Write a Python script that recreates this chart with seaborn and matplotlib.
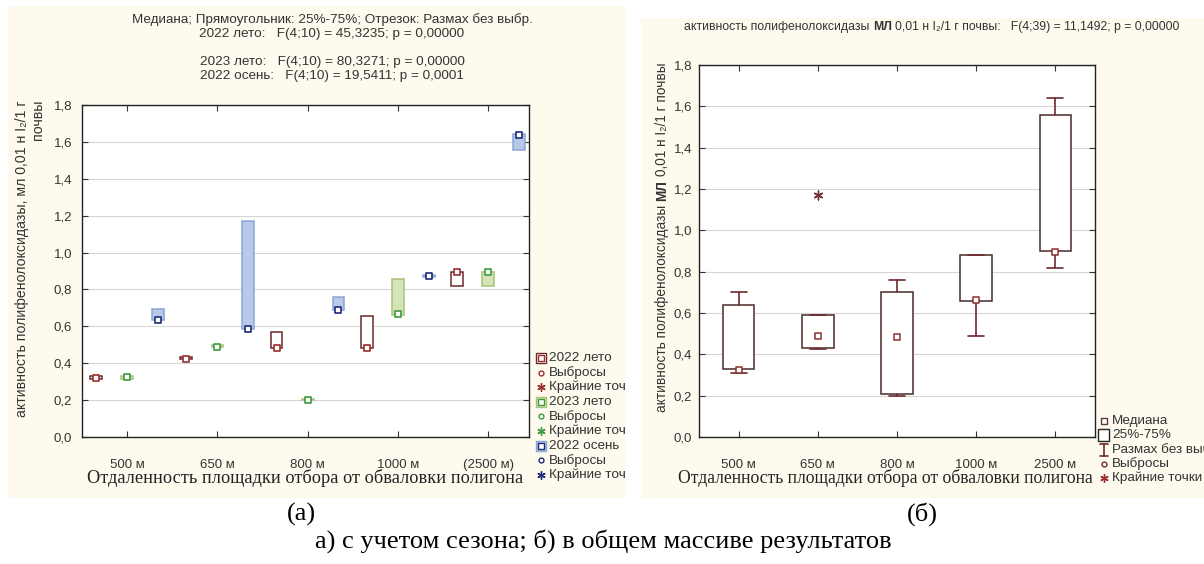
import matplotlib
matplotlib.use("Agg")
import matplotlib.pyplot as plt
from matplotlib import font_manager
from matplotlib.patches import Rectangle
from matplotlib.transforms import Bbox
import numpy as np
import pandas as pd
import seaborn as sns

# ---- data ----
distances = ["500 м", "650 м", "800 м", "1000 м", "(2500 м)"]
distances_all = ["500 м", "650 м", "800 м", "1000 м", "2500 м"]

summer22_q1 = [0.313, 0.425, 0.485, 0.485, 0.817]
summer22_q3 = [0.330, 0.435, 0.567, 0.656, 0.897]
summer22_med = [0.320, 0.425, 0.485, 0.485, 0.897]

summer23_q1 = [0.315, 0.487, 0.200, 0.663, 0.817]
summer23_q3 = [0.330, 0.500, 0.206, 0.857, 0.897]
summer23_med = [0.325, 0.489, 0.200, 0.665, 0.897]

autumn22_q1 = [0.635, 0.585, 0.690, 0.870, 1.555]
autumn22_q3 = [0.695, 1.169, 0.757, 0.876, 1.642]
autumn22_med = [0.635, 0.585, 0.690, 0.873, 1.640]

all_q1 = [0.33, 0.43, 0.21, 0.66, 0.90]
all_q3 = [0.64, 0.59, 0.70, 0.88, 1.56]
all_med = [0.325, 0.49, 0.485, 0.665, 0.895]
all_low = [0.31, 0.425, 0.20, 0.49, 0.82]
all_high = [0.70, 0.59, 0.76, 0.88, 1.64]
extreme_dist = ["650 м"]
extreme_val = [1.17]

yticks = [0.0, 0.2, 0.4, 0.6, 0.8, 1.0, 1.2, 1.4, 1.6, 1.8]


def pick_font(names, default):
    for n in names:
        try:
            font_manager.findfont(font_manager.FontProperties(family=n), fallback_to_default=False)
            return n
        except ValueError:
            pass
    return default


SANS = pick_font(["Liberation Sans Narrow", "Liberation Sans"], "DejaVu Sans")
SERIF = pick_font(["Liberation Serif"], "DejaVu Serif")

sns.set_style("ticks")
plt.rcParams["font.family"] = [SANS, "DejaVu Sans"]

CREAM = "#FEFAEE"
TXT = "#333333"
season_names = ["2022 лето", "2023 лето", "2022 осень"]
season_face = ["white", "#D5E3B8", "#B7C9E6"]
season_edge = ["#6E2B2B", "#A8C27A", "#8AA6D6"]
season_medc = ["#9B2D2D", "#3C9B3C", "#1F2A7A"]
season_q1 = [summer22_q1, summer23_q1, autumn22_q1]
season_q3 = [summer22_q3, summer23_q3, autumn22_q3]
season_med = [summer22_med, summer23_med, autumn22_med]
offsets = [-0.345, 0.0, 0.34]
MAROON = "#6E2A2E"

fig = plt.figure(figsize=(12.04, 5.64), dpi=100)
fig.patch.set_facecolor("white")

# pixel-coordinate overlay for panels, texts and hand-made legends
bg = fig.add_axes([0, 0, 1, 1], zorder=0)
bg.set_xlim(0, 1204)
bg.set_ylim(564, 0)
bg.axis("off")
bg.add_patch(Rectangle((8, 6), 618, 492, color=CREAM, lw=0))
bg.add_patch(Rectangle((641, 18), 563, 480, color=CREAM, lw=0))


def pix_axes(x0, x1, ytop, ybot):
    return fig.add_axes([x0 / 1204, 1 - ybot / 564, (x1 - x0) / 1204, (ybot - ytop) / 564], zorder=2)


def style_axes(ax, labels, xmax, pad_y):
    ax.set_facecolor("white")
    ax.set_ylim(0, 1.8)
    ax.set_yticks(yticks)
    ax.set_yticklabels([f"{v:.1f}".replace(".", ",") for v in yticks])
    ax.set_xticks(range(len(labels)))
    ax.set_xticklabels(labels)
    ax.set_xlim(-0.5, xmax)
    ax.yaxis.grid(True, color="#D6D6D6", lw=0.8)
    ax.set_axisbelow(True)
    ax.tick_params(direction="in", top=True, right=True, length=4, width=0.8,
                   color="#333333", labelcolor=TXT, labelsize=9.5)
    ax.tick_params(axis="x", pad=16)
    ax.tick_params(axis="y", pad=pad_y)
    for s in ax.spines.values():
        s.set_color("#222222")
        s.set_linewidth(1.0)
    ax.set_xlabel("")
    ax.set_ylabel("")


# ---------------- left panel: by season ----------------
axL = pix_axes(82, 529, 105, 437)
x = np.arange(len(distances))
for i in range(3):
    stats = [dict(med=m, q1=a, q3=b, whislo=a, whishi=b, fliers=[])
             for a, b, m in zip(season_q1[i], season_q3[i], season_med[i])]
    axL.bxp(stats, positions=x + offsets[i], widths=0.13, patch_artist=True,
            showcaps=False, showfliers=False, manage_ticks=False,
            boxprops=dict(facecolor=season_face[i], edgecolor=season_edge[i], lw=1.1),
            whiskerprops=dict(lw=0), medianprops=dict(lw=0))
    df = pd.DataFrame({"pos": x + offsets[i], "med": season_med[i]})
    sns.scatterplot(data=df, x="pos", y="med", marker="s", s=24, facecolor="white",
                    edgecolor=season_medc[i], linewidth=1.2, ax=axL, zorder=5)
style_axes(axL, distances, 4.45, 7)

# ---------------- right panel: all results ----------------
axR = pix_axes(699, 1095, 65, 437)
stats_all = [dict(med=m, q1=a, q3=b, whislo=lo, whishi=hi, fliers=[])
             for a, b, m, lo, hi in zip(all_q1, all_q3, all_med, all_low, all_high)]
axR.bxp(stats_all, positions=np.arange(len(distances_all)), widths=0.4, capwidths=0.2,
        patch_artist=True, showfliers=False, manage_ticks=False,
        boxprops=dict(facecolor="white", edgecolor="#4A2A2A", lw=1.1),
        whiskerprops=dict(color=MAROON, lw=1.2), capprops=dict(color=MAROON, lw=1.2),
        medianprops=dict(lw=0))
dfm = pd.DataFrame({"dist": distances_all, "med": all_med})
sns.scatterplot(data=dfm, x="dist", y="med", marker="s", s=18, facecolor="white",
                edgecolor="#8B2E2E", linewidth=1.1, ax=axR, zorder=5)
dfe = pd.DataFrame({"dist": extreme_dist, "val": extreme_val})
sns.scatterplot(data=dfe, x="dist", y="val", marker=(6, 2, 0), s=40, color=MAROON,
                edgecolor=MAROON, linewidth=1.0, ax=axR, zorder=5)
style_axes(axR, distances_all, 4.5, 5)

# ---------------- texts ----------------
rend = fig.canvas.get_renderer()


def gap_width(size, weight):
    a = bg.text(0, 0, "x x", fontsize=size, fontweight=weight)
    b = bg.text(0, 0, "xx", fontsize=size, fontweight=weight)
    g = a.get_window_extent(rend).width - b.get_window_extent(rend).width
    a.remove()
    b.remove()
    return g


def chain_text(x0, y0, parts, size, rotation=0):
    # parts: list of (text, weight, space_after)
    x_, y_ = x0, y0
    for s, w, sp in parts:
        t = bg.text(x_, y_, s, fontsize=size, fontweight=w, rotation=rotation,
                    rotation_mode="anchor", ha="left", va="baseline", color=TXT)
        bb = t.get_window_extent(rend)
        adv = (bb.width if rotation == 0 else bb.height) + sp * gap_width(size, "normal")
        if rotation == 0:
            x_ += adv
        else:
            y_ -= adv


title_left = ["Медиана; Прямоугольник: 25%-75%; Отрезок: Размах без выбр.",
              "2022 лето:   F(4;10) = 45,3235; p = 0,00000",
              "",
              "2023 лето:   F(4;10) = 80,3271; p = 0,00000",
              "2022 осень:   F(4;10) = 19,5411; p = 0,0001"]
for k, line in enumerate(title_left):
    bg.text(332, 20 + 14 * k, line, ha="center", va="center", fontsize=9.7, color=TXT)

chain_text(684, 30, [("активность полифенолоксидазы", "normal", 1), ("МЛ", "bold", 1),
                     ("0,01 н I₂/1 г почвы:   F(4;39) = 11,1492; p = 0,00000", "normal", 0)], 8.8)

# y labels
bg.text(26, 100, "активность полифенолоксидазы, мл 0,01 н I₂/1 г", rotation=90,
        rotation_mode="anchor", ha="right", va="baseline", fontsize=10.2, color=TXT)
bg.text(42, 100, "почвы", rotation=90, rotation_mode="anchor", ha="right",
        va="baseline", fontsize=10.2, color=TXT)
chain_text(666, 412, [("активность полифенолоксидазы", "normal", 1), ("МЛ", "bold", 1),
                      ("0,01 н I₂/1 г почвы", "normal", 0)], 9.8, rotation=90)

# x labels (serif)
xl = "Отдаленность площадки отбора от обваловки полигона"
bg.text(305, 478, xl, ha="center", va="center", fontsize=13.2, family=SERIF, color="#222222")
bg.text(885, 478, xl, ha="center", va="center", fontsize=12.7, family=SERIF, color="#222222")

# captions
bg.text(301, 514, "(а)", ha="center", va="center", fontsize=19, family=SERIF, color="black")
bg.text(922, 514, "(б)", ha="center", va="center", fontsize=19, family=SERIF, color="black")
bg.text(603, 541, "а) с учетом сезона; б) в общем массиве результатов", ha="center",
        va="center", fontsize=19, family=SERIF, color="black")

# ---------------- left legend ----------------
clip = Bbox.from_extents(0, 0, 626, 564)
leg_y = 358.0
for i in range(3):
    c = season_medc[i]
    entries = [("box", season_names[i]), ("o", "Выбросы"), ("*", "Крайние точки")]
    for kind, label in entries:
        if kind == "box":
            bg.add_patch(Rectangle((536, leg_y - 5), 10, 10, facecolor=season_face[i],
                                   edgecolor=season_edge[i] if i else "#6E2B2B", lw=1.0))
            bg.plot([541], [leg_y], marker="s", ms=4, mfc="white", mec=c, mew=1.0)
        elif kind == "o":
            bg.plot([541], [leg_y], marker="o", ms=3.5, mfc="white", mec=c, mew=1.0)
        else:
            bg.plot([541], [leg_y], marker=(6, 2, 0), ms=6, color=c, mew=1.0)
        t = bg.text(549, leg_y, label, ha="left", va="center", fontsize=9.7, color=TXT)
        t.set_clip_box(clip)
        t.set_clip_on(True)
        leg_y += 14.6

# ---------------- right legend ----------------
ry = [421, 435, 450, 464, 478]
bg.plot([1104], [ry[0]], marker="s", ms=4, mfc="white", mec="#5A3A3A", mew=1.0)
bg.text(1112, ry[0], "Медиана", ha="left", va="center", fontsize=9.7, color=TXT)
bg.add_patch(Rectangle((1098, ry[1] - 6), 11, 12, facecolor="white", edgecolor="#222222", lw=1.0))
bg.text(1112, ry[1], "25%-75%", ha="left", va="center", fontsize=9.7, color=TXT)
bg.plot([1104, 1104], [ry[2] - 6, ry[2] + 6], color=MAROON, lw=1.2)
bg.plot([1100, 1108], [ry[2] - 6, ry[2] - 6], color=MAROON, lw=1.2)
bg.plot([1100, 1108], [ry[2] + 6, ry[2] + 6], color=MAROON, lw=1.2)
bg.text(1112, ry[2], "Размах без выбр.", ha="left", va="center", fontsize=9.7, color=TXT)
bg.plot([1104], [ry[3]], marker="o", ms=3.5, mfc="white", mec=MAROON, mew=1.0)
bg.text(1112, ry[3], "Выбросы", ha="left", va="center", fontsize=9.7, color=TXT)
bg.plot([1104], [ry[4]], marker=(6, 2, 0), ms=6, color="#9B2D2D", mew=1.0)
bg.text(1112, ry[4], "Крайние точки", ha="left", va="center", fontsize=9.7, color=TXT)

fig.savefig("out.png", dpi=100, facecolor="white")
